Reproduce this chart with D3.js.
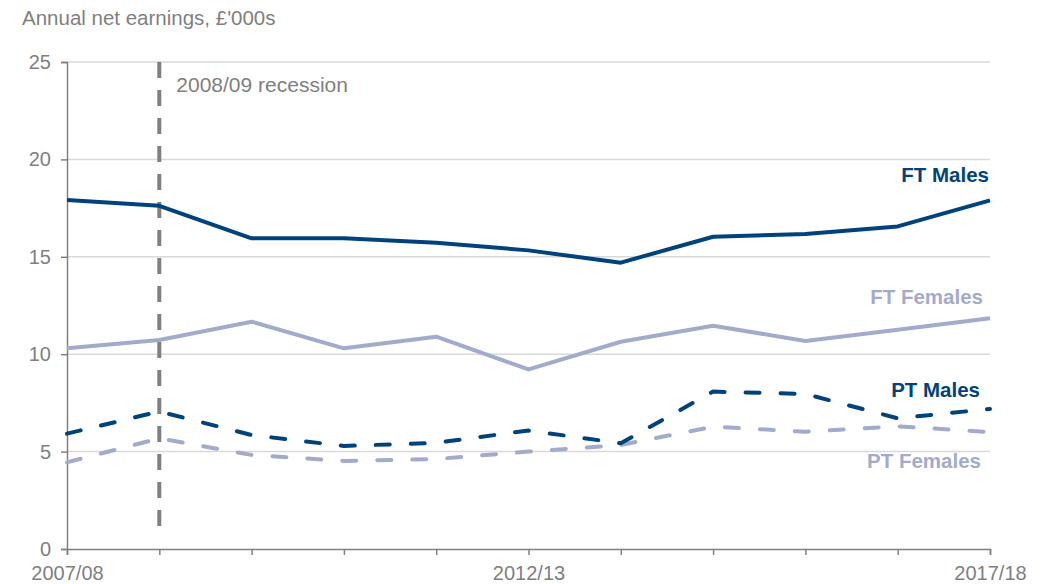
<!DOCTYPE html>
<html><head><meta charset="utf-8">
<script src="https://cdn.jsdelivr.net/npm/d3@7"></script>
<style>body{margin:0;background:#fff;} svg{display:block;font-family:"Liberation Sans",Arial,sans-serif;}</style>
</head><body>
<svg id="c" width="1048" height="584"></svg>
<script>
const years = ["2007/08","2008/09","2009/10","2010/11","2011/12","2012/13","2013/14","2014/15","2015/16","2016/17","2017/18"];
const xTickLabels = ["2007/08","2012/13","2017/18"];
const yTicks = [0,5,10,15,20,25];
const ftMales   = [17.92,17.62,15.95,15.95,15.72,15.33,14.70,16.03,16.17,16.56,17.90];
const ftFemales = [10.30,10.73,11.67,10.30,10.90,9.22,10.64,11.46,10.68,11.26,11.84];
const ptMales   = [5.92,7.06,5.85,5.29,5.45,6.08,5.43,8.08,7.96,6.71,7.19];
const ptFemales = [4.45,5.68,4.83,4.52,4.62,5.00,5.34,6.28,6.02,6.30,6.00];
const recessionYear = "2008/09";

const dark = "#00437c", light = "#a3abcb", grey = "#808080";
const svg = d3.select("#c");
const x = d3.scalePoint().domain(years).range([67, 990]);
const y = d3.scaleLinear().domain([0, 25]).range([549, 62]);

// gridlines
svg.append("g").selectAll("line").data(yTicks.filter(d=>d>0)).join("line")
  .attr("x1", 67).attr("x2", 990).attr("y1", d=>y(d)).attr("y2", d=>y(d))
  .attr("stroke", "#d9d9d9").attr("stroke-width", 1.5);

// y axis
const ya = svg.append("g").attr("transform","translate(67,0)")
  .call(d3.axisLeft(y).tickValues(yTicks).tickSize(6).tickPadding(10));
ya.select(".domain").attr("stroke", grey).attr("stroke-width",1.5);
ya.selectAll(".tick line").attr("stroke", grey).attr("stroke-width",1.5);
ya.selectAll("text").attr("fill", "#7f7f7f").attr("font-size", 20).attr("font-family","Liberation Sans, Arial, sans-serif");

// x axis
const xa = svg.append("g").attr("transform","translate(0,549)")
  .call(d3.axisBottom(x).tickSizeOuter(0).tickSize(6).tickPadding(11)
    .tickFormat(d => xTickLabels.includes(d) ? d : ""));
xa.select(".domain").attr("stroke", grey).attr("stroke-width",1.5);
xa.selectAll(".tick line").attr("stroke", grey).attr("stroke-width",1.5);
xa.selectAll("text").attr("fill", "#7f7f7f").attr("font-size", 20).attr("font-family","Liberation Sans, Arial, sans-serif");

// recession line
svg.append("line").attr("x1", x(recessionYear)).attr("x2", x(recessionYear))
  .attr("y1", 62).attr("y2", 536).attr("stroke", grey).attr("stroke-width", 4)
  .attr("stroke-dasharray", "16,12");
svg.append("text").attr("x", x(recessionYear)+17).attr("y", 92)
  .attr("fill", "#7f7f7f").attr("font-size", 21).text("2008/09 recession");

const line = d3.line().x((d,i)=>x(years[i])).y(d=>y(d));
function draw(data, color, dashed){
  const p = svg.append("path").datum(data).attr("d", line).attr("fill","none")
    .attr("stroke", color).attr("stroke-width", 4).attr("stroke-linejoin","round");
  if (dashed) p.attr("stroke-dasharray","14,21").attr("stroke-linecap","round");
}
draw(ftFemales, light, false);
draw(ftMales, dark, false);
draw(ptFemales, light, true);
draw(ptMales, dark, true);

// series labels
const labels = [
  {t:"FT Males", x:989, y:182, c:dark},
  {t:"FT Females", x:983, y:304, c:light},
  {t:"PT Males", x:980, y:397, c:dark},
  {t:"PT Females", x:981, y:468, c:light}
];
svg.append("g").selectAll("text").data(labels).join("text")
  .attr("x", d=>d.x).attr("y", d=>d.y).attr("text-anchor","end")
  .attr("fill", d=>d.c).attr("font-weight","bold").attr("font-size", 20.5)
  .text(d=>d.t);

// title
svg.append("text").attr("x", 22).attr("y", 25).attr("fill", "#7f7f7f")
  .attr("font-size", 20.5).text("Annual net earnings, £'000s");
</script>
</body></html>
